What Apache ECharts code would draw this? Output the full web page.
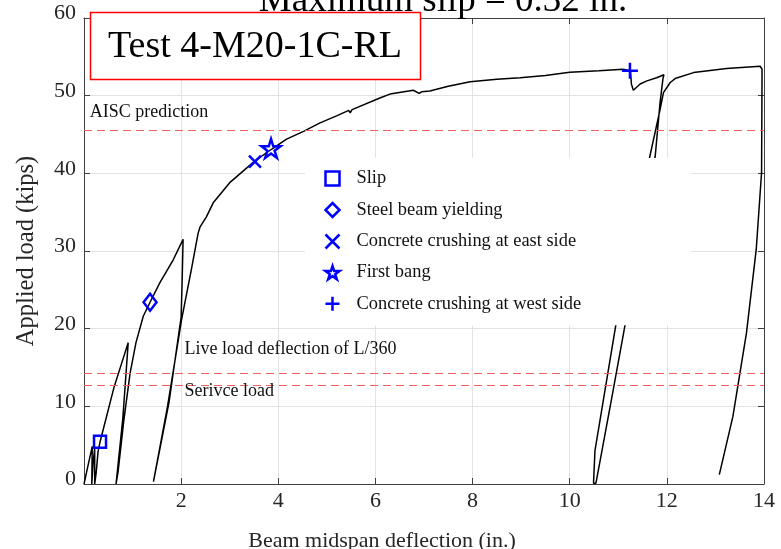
<!DOCTYPE html>
<html>
<head>
<meta charset="utf-8">
<script src="https://cdn.jsdelivr.net/npm/echarts@6/dist/echarts.min.js"></script>
<style>
  html, body { margin: 0; padding: 0; background: #fff; }
  #chart { width: 781px; height: 549px; }
</style>
</head>
<body>
<div id="chart"></div>
<script>
// Load–deflection record, Test 4-M20-1C-RL (deflection in inches, load in kips)
const deflection = [
  0.00, 0.08, 0.17, 0.16, 0.19, 0.22, 0.22, 0.25, 0.29, 0.33,
  0.62, 0.91, 0.80, 0.66, 0.70, 0.82, 0.95, 1.07, 1.22, 1.36,
  1.56, 1.84, 2.04, 2.02, 2.00, 1.75, 1.43, 1.46, 1.72, 2.01,
  2.21, 2.35, 2.39, 2.52, 2.66, 3.00, 3.52, 3.86, 4.17, 4.52,
  4.86, 5.20, 5.45, 5.48, 5.52, 6.09, 6.30, 6.78, 6.90, 6.95,
  7.12, 7.50, 7.95, 8.50, 8.98, 9.50, 10.00, 10.60, 11.10, 11.25,
  11.27, 11.31, 11.45, 11.59, 11.79, 11.94, 11.92, 11.86, 11.76, 11.14,
  10.86, 10.54, 10.49, 10.52, 10.95, 11.65, 11.86, 11.93, 12.07, 12.17,
  12.55, 13.23, 13.92, 13.96, 13.96, 13.95, 13.84, 13.64, 13.36, 13.08
];
const load = [
  0.0, 2.3, 4.85, 0.0, 2.9, 4.6, 0.0, 1.4, 4.2, 5.4,
  12.5, 18.2, 8.5, 0.0, 1.5, 8.2, 14.3, 18.2, 21.6, 23.4,
  25.9, 28.9, 31.5, 26.0, 21.5, 10.5, 0.3, 0.2, 10.0, 21.2,
  27.6, 32.3, 33.1, 34.4, 36.2, 38.8, 41.6, 43.1, 44.4, 45.4,
  46.5, 47.4, 48.1, 47.8, 48.2, 49.7, 50.2, 50.7, 50.3, 50.5,
  50.6, 51.2, 51.8, 52.1, 52.3, 52.6, 53.0, 53.2, 53.4, 53.2,
  51.5, 50.7, 51.5, 51.9, 52.3, 52.7, 52.2, 49.1, 42.2, 20.5,
  10.9, 0.1, 0.1, 4.3, 20.5, 42.2, 48.2, 50.4, 51.7, 52.2,
  52.97, 53.5, 53.8, 53.8, 53.4, 40.1, 30.2, 19.5, 8.7, 1.2
];

// Test events
const eventNames = [
  'Slip',
  'Steel beam yielding',
  'Concrete crushing at east side',
  'First bang',
  'Concrete crushing at west side'
];
const eventDeflection = [0.33, 1.36, 3.52, 3.85, 11.24];
const eventLoad = [5.45, 23.4, 41.5, 43.2, 53.2];

// Reference load levels (kips)
const refNames = ['AISC prediction', 'Live load deflection of L/360', 'Serivce load'];
const refLoads = [45.5, 14.3, 12.75];

const titleText = 'Maximum slip = 0.32 in.';
const testLabel = 'Test 4-M20-1C-RL';

const SERIF = 'Liberation Serif';
const BLUE = '#0000ff';
const starPath = 'path://M50,0L61.2,34.6L97.6,34.5L68.1,55.9L79.4,90.5L50,69L20.6,90.5L31.9,55.9L2.4,34.5L38.8,34.6Z';
const markerStyles = [
  { symbol: 'rect', size: 12 },
  { symbol: 'diamond', size: [13, 17] },
  { symbol: 'path://M0,0L10,10M10,0L0,10', size: 12 },
  { symbol: starPath, size: 19 },
  { symbol: 'path://M5,0L5,10M0,5L10,5', size: 16 }
];

const chart = echarts.init(document.getElementById('chart'), null, { renderer: 'canvas' });

const axisColor = '#404040';
const gridColor = '#e3e3e3';
const textColor = '#262626';

const curveData = deflection.map((d, i) => [d, load[i]]);

const eventSeries = eventNames.map((name, i) => ({
  name: name,
  type: 'scatter',
  data: [[eventDeflection[i], eventLoad[i]]],
  symbol: markerStyles[i].symbol,
  symbolSize: markerStyles[i].size,
  itemStyle: { color: 'none', borderColor: BLUE, borderWidth: 2.5, opacity: 1 },
  z: 5,
  silent: true
}));

chart.setOption({
  animation: false,
  backgroundColor: '#fff',
  grid: { left: 84, right: 17, top: 18, bottom: 65, containLabel: false, outerBoundsMode: 'none' },
  xAxis: [{
    type: 'value', min: 0, max: 14, interval: 2,
    axisLine: { show: true, onZero: false, lineStyle: { color: axisColor, width: 1 } },
    axisTick: { inside: true, length: 6, lineStyle: { color: axisColor } },
    axisLabel: { color: textColor, fontFamily: SERIF, fontSize: 22, margin: 6, showMinLabel: false },
    splitLine: { show: true, lineStyle: { color: gridColor, width: 1 } },
    name: 'Beam midspan deflection (in.)',
    nameLocation: 'middle', nameGap: 46,
    nameTextStyle: { color: textColor, fontFamily: SERIF, fontSize: 22, padding: [0, 84, 0, 0] }
  }, {
    type: 'value', min: 0, max: 14, interval: 2, position: 'top',
    axisLine: { show: true, onZero: false, lineStyle: { color: axisColor, width: 1 } },
    axisTick: { inside: true, length: 6, lineStyle: { color: axisColor } },
    axisLabel: { show: false }, splitLine: { show: false }
  }],
  yAxis: [{
    type: 'value', min: 0, max: 60, interval: 10,
    axisLine: { show: true, onZero: false, lineStyle: { color: axisColor, width: 1 } },
    axisTick: { inside: true, length: 6, lineStyle: { color: axisColor } },
    axisLabel: { color: textColor, fontFamily: SERIF, fontSize: 22, margin: 8,
                 verticalAlign: 'bottom', lineHeight: 9 },
    splitLine: { show: true, lineStyle: { color: gridColor, width: 1 } },
    name: 'Applied load (kips)',
    nameLocation: 'middle', nameGap: 45,
    nameTextStyle: { color: textColor, fontFamily: SERIF, fontSize: 24.5 }
  }, {
    type: 'value', min: 0, max: 60, interval: 10, position: 'right',
    axisLine: { show: true, onZero: false, lineStyle: { color: axisColor, width: 1 } },
    axisTick: { inside: true, length: 6, lineStyle: { color: axisColor } },
    axisLabel: { show: false }, splitLine: { show: false }
  }],
  legend: {
    orient: 'vertical',
    left: 305, top: 158,
    data: eventNames,
    selectedMode: false,
    backgroundColor: '#fff',
    padding: [11, 110, 12, 18],
    itemWidth: 14, itemHeight: 14, itemGap: 12.5,
    itemStyle: { borderWidth: 2.5, opacity: 1 },
    textStyle: { fontFamily: SERIF, fontSize: 18.4, color: '#111', padding: [0, 0, 12, 12] }
  },
  series: [{
    name: 'curve',
    type: 'line',
    data: curveData,
    showSymbol: false,
    symbol: 'none',
    lineStyle: { color: '#000', width: 1.5 },
    z: 3,
    silent: true,
    markLine: {
      silent: true,
      symbol: 'none',
      label: { show: false },
      lineStyle: { color: '#f06060', type: [8, 5], width: 1 },
      data: refLoads.map(v => ({ yAxis: v }))
    }
  }].concat(eventSeries)
});

// Annotations placed from data coordinates
function px(x, y) { return chart.convertToPixel({ gridIndex: 0 }, [x, y]); }
const aiscPos = px(0.12, refLoads[0]);
const livePos = px(2.07, refLoads[1]);
const servPos = px(2.07, refLoads[2]);

chart.setOption({
  graphic: [
    {
      type: 'text', z: 10,
      style: { text: titleText, x: 443, y: 1, align: 'center', verticalAlign: 'middle',
               font: '37px "Liberation Serif"', fill: '#000' }
    },
    {
      type: 'rect', z: 10,
      shape: { x: 90.5, y: 12.5, width: 330, height: 67 },
      style: { fill: '#fff', stroke: '#ff0000', lineWidth: 1.5 }
    },
    {
      type: 'text', z: 11,
      style: { text: testLabel, x: 255, y: 47, align: 'center', verticalAlign: 'middle',
               font: '38px "Liberation Serif"', fill: '#000' }
    },
    {
      type: 'text', z: 10,
      style: { text: refNames[0], x: aiscPos[0], y: aiscPos[1] - 18, align: 'left', verticalAlign: 'middle',
               font: '18px "Liberation Serif"', fill: '#111' }
    },
    {
      type: 'text', z: 10,
      style: { text: refNames[1], x: livePos[0], y: livePos[1] - 24, align: 'left', verticalAlign: 'middle',
               font: '18px "Liberation Serif"', fill: '#111' }
    },
    {
      type: 'text', z: 10,
      style: { text: refNames[2], x: servPos[0], y: servPos[1] + 6, align: 'left', verticalAlign: 'middle',
               font: '18px "Liberation Serif"', fill: '#111' }
    }
  ]
});
</script>
</body>
</html>
